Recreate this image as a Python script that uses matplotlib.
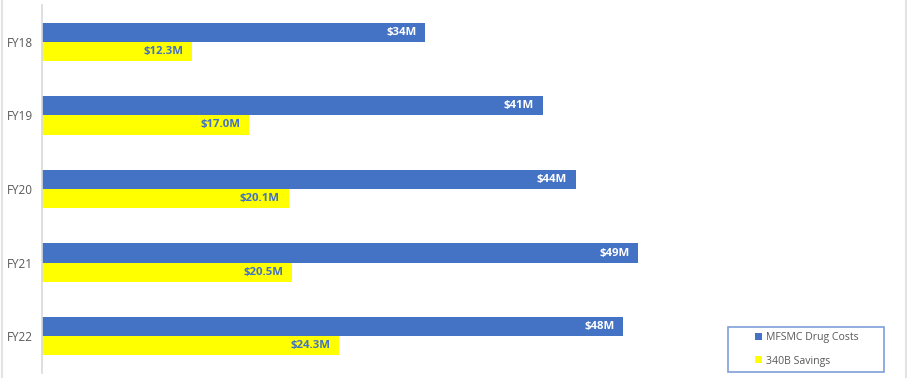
import matplotlib
matplotlib.use("Agg")
import matplotlib.pyplot as plt
import numpy as np
from matplotlib.lines import Line2D
from matplotlib.patches import Rectangle

W, H, DPI = 907, 378, 100

categories    = ["FY18", "FY19", "FY20", "FY21", "FY22"]
drug_costs    = [31.4, 41.0, 43.7, 48.8, 47.6]          # bar lengths ($M)
drug_labels   = ["$34M", "$41M", "$44M", "$49M", "$48M"]
savings       = [12.3, 17.0, 20.2, 20.5, 24.3]
savings_labels = ["$12.3M", "$17.0M", "$20.1M", "$20.5M", "$24.3M"]

BLUE   = "#4472C4"
YELLOW = "#FFFF00"
GRAY   = "#595959"

plt.rcParams["font.family"] = ["Open Sans", "DejaVu Sans"]

fig = plt.figure(figsize=(W / DPI, H / DPI), dpi=DPI)
# axes in pixel coordinates
x0, x1 = 41.7, 904
y_top, y_bot = 5, 373
ax = fig.add_axes([x0 / W, 1 - y_bot / H, (x1 - x0) / W, (y_bot - y_top) / H])

px_per_m = 12.22
ax.set_xlim(0, (x1 - x0) / px_per_m)
ax.set_ylim(len(categories) - 0.5, -0.5)

y = np.arange(len(categories))
h = 0.26
b1 = ax.barh(y - h / 2, drug_costs, height=h, color=BLUE, label="MFSMC Drug Costs")
b2 = ax.barh(y + h / 2, savings, height=h, color=YELLOW, label="340B Savings")

for rect, lab in zip(b1, drug_labels):
    ax.text(rect.get_width() - 0.7, rect.get_y() + rect.get_height() / 2, lab,
            ha="right", va="center", color="white", fontsize=8.2, fontweight="bold")
for rect, lab in zip(b2, savings_labels):
    ax.text(rect.get_width() - 0.7, rect.get_y() + rect.get_height() / 2, lab,
            ha="right", va="center", color=BLUE, fontsize=8.2, fontweight="bold")

ax.set_yticks(y)
ax.set_yticklabels(categories, fontsize=8.5, color=GRAY)
ax.tick_params(axis="y", length=0, pad=6)
ax.set_xticks([])
for s in ["top", "right", "bottom"]:
    ax.spines[s].set_visible(False)
ax.spines["left"].set_color("#D9D9D9")
ax.spines["left"].set_linewidth(1.2)

# legend box drawn separately so the entries can sit indented inside it
lx0, lx1, ly0, ly1 = 727.7, 884, 326.7, 371.7
fig.add_artist(Rectangle((lx0 / W, 1 - ly1 / H), (lx1 - lx0) / W, (ly1 - ly0) / H,
                         transform=fig.transFigure, fill=False,
                         edgecolor="#7F9FD9", lw=1.2))
leg = fig.legend(handles=[b1, b2], loc="center left",
                 bbox_to_anchor=(755 / W, 1 - 349.5 / H),
                 borderaxespad=0, borderpad=0, fontsize=7.6, frameon=False,
                 handlelength=0.65, handleheight=0.65, handletextpad=0.4,
                 labelspacing=1.15, labelcolor=GRAY)

# light frame lines at the left and right edges
for xp in (1.5, 905.5):
    fig.add_artist(Line2D([xp / W, xp / W], [0, 1], transform=fig.transFigure,
                          color="#E3E3E3", lw=1.5))

fig.savefig("out.png", dpi=DPI)
